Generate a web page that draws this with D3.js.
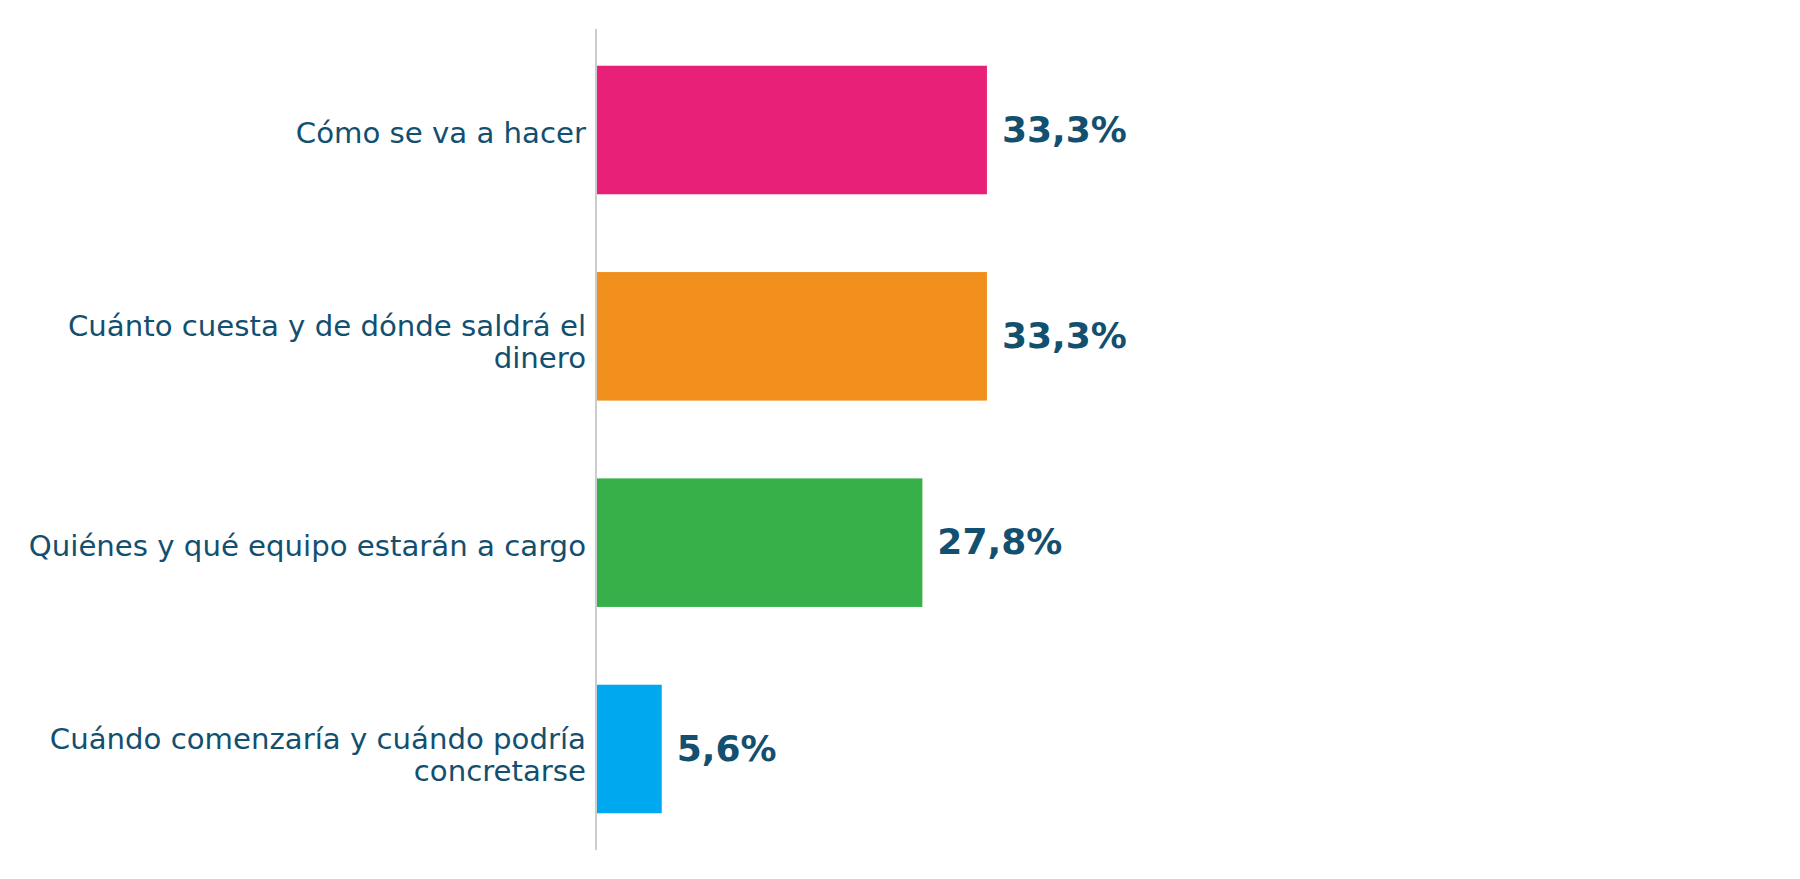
<!DOCTYPE html>
<html>
<head>
<meta charset="utf-8">
<script src="https://cdn.jsdelivr.net/npm/d3@7"></script>
<style>
  body { margin: 0; background: #fff; }
  svg { display: block; }
</style>
</head>
<body>
<div id="chart"></div>
<script>
// data
const categories = [
    "Cómo se va a hacer",
    "Cuánto cuesta y de dónde saldrá el dinero",
    "Quiénes y qué equipo estarán a cargo",
    "Cuándo comenzaría y cuándo podría concretarse"
];
const values = [33.3, 33.3, 27.8, 5.6];
const colors = ["#e82077", "#f08f1b", "#37b04a", "#00a8ef"];

const width = 1800, height = 879;
const margin = { top: 29, right: 30, bottom: 29, left: 596 };
const textColor = "#134f6f";

const svg = d3.select("#chart").append("svg")
    .attr("width", width)
    .attr("height", height);

// scales
const x = d3.scaleLinear()
    .domain([0, 100])
    .range([margin.left, margin.left + 1174]);

const y = d3.scaleBand()
    .domain(categories)
    .range([margin.top, height - margin.bottom])
    .paddingInner(0.377)
    .paddingOuter(0.178);

const rows = categories.map((c, i) => ({ cat: c, value: values[i], color: colors[i] }));

// bars
svg.selectAll("rect.bar")
    .data(rows)
    .enter().append("rect")
    .attr("class", "bar")
    .attr("x", x(0))
    .attr("y", d => y(d.cat))
    .attr("width", d => x(d.value) - x(0))
    .attr("height", y.bandwidth())
    .attr("fill", d => d.color);

// axis line
svg.append("line")
    .attr("x1", x(0)).attr("x2", x(0))
    .attr("y1", margin.top).attr("y2", height - margin.bottom)
    .attr("stroke", "#cccccc")
    .attr("stroke-width", 2);

// value labels
svg.selectAll("text.value")
    .data(rows)
    .enter().append("text")
    .attr("class", "value")
    .attr("x", d => x(d.value) + 15)
    .attr("y", d => y(d.cat) + y.bandwidth() / 2)
    .attr("dy", "0.32em")
    .attr("font-family", "DejaVu Sans")
    .attr("font-weight", "bold")
    .attr("font-size", 36)
    .attr("fill", textColor)
    .text(d => d3.format(".1f")(d.value).replace(".", ",") + "%");

// category labels, wrapped
const fontSize = 29.2, lineH = 32.2, maxW = 580;
const labels = svg.selectAll("text.cat")
    .data(rows)
    .enter().append("text")
    .attr("class", "cat")
    .attr("text-anchor", "end")
    .attr("font-family", "DejaVu Sans")
    .attr("font-size", fontSize)
    .attr("fill", textColor);

labels.each(function(d) {
    const t = d3.select(this);
    const words = d.cat.split(" ");
    let lines = [], line = [];
    const probe = t.append("tspan");
    words.forEach(w => {
        line.push(w);
        probe.text(line.join(" "));
        if (probe.node().getComputedTextLength() > maxW && line.length > 1) {
            line.pop();
            lines.push(line.join(" "));
            line = [w];
        }
    });
    lines.push(line.join(" "));
    probe.remove();
    const cy = y(d.cat) + y.bandwidth() / 2;
    // multi-line blocks sit a little lower in the original
    const y0 = cy - (lines.length - 1) * lineH / 2 + (lines.length - 1) * 3;
    lines.forEach((l, i) => {
        t.append("tspan")
            .attr("x", x(0) - 10)
            .attr("y", y0 + i * lineH)
            .attr("dy", "0.44em")
            .text(l);
    });
});
</script>
</body>
</html>
